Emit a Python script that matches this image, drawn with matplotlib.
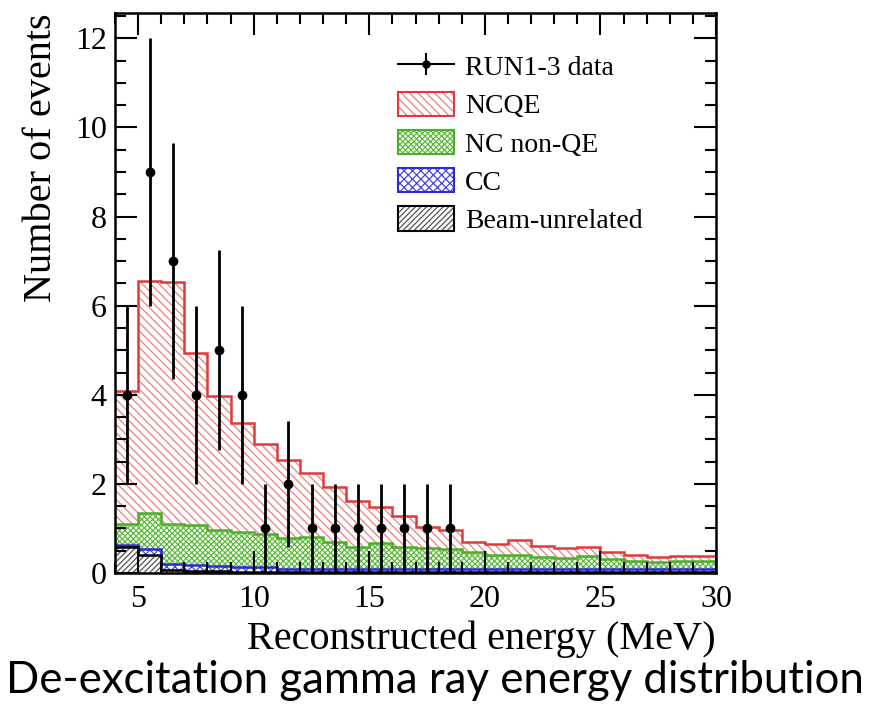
import numpy as np
import matplotlib
matplotlib.use("Agg")
import matplotlib.pyplot as plt
import matplotlib.patches as patches
from matplotlib.lines import Line2D
from matplotlib.ticker import MultipleLocator

# 1 MeV bins from 4 to 30 MeV
bin_edges = np.arange(4, 31, 1)

# stacked MC, cumulative tops
beam_top = [0.59, 0.40, 0.07, 0.05, 0.04, 0.03, 0.03, 0.02, 0.02, 0.02, 0.02, 0.02, 0.02,
            0.02, 0.02, 0.02, 0.02, 0.02, 0.02, 0.02, 0.02, 0.02, 0.02, 0.02, 0.02, 0.02]
cc_top = [0.63, 0.53, 0.20, 0.18, 0.16, 0.14, 0.13, 0.10, 0.10, 0.10, 0.10, 0.09, 0.09,
          0.09, 0.09, 0.09, 0.09, 0.09, 0.09, 0.09, 0.09, 0.09, 0.09, 0.09, 0.09, 0.09]
nonqe_top = [1.09, 1.34, 1.09, 1.07, 0.96, 0.93, 0.87, 0.78, 0.80, 0.70, 0.59, 0.67, 0.59,
             0.55, 0.53, 0.46, 0.40, 0.40, 0.35, 0.33, 0.38, 0.31, 0.27, 0.24, 0.27, 0.27]
ncqe_top = [4.08, 6.56, 6.54, 4.94, 3.98, 3.36, 2.89, 2.53, 2.25, 1.92, 1.62, 1.49, 1.28,
            1.04, 0.97, 0.70, 0.66, 0.73, 0.61, 0.55, 0.58, 0.46, 0.40, 0.35, 0.38, 0.38]

# RUN1-3 data
data_x = [4.5, 5.5, 6.5, 7.5, 8.5, 9.5, 10.5, 11.5, 12.5, 13.5, 14.5, 15.5, 16.5, 17.5, 18.5]
data_y = [4, 9, 7, 4, 5, 4, 1, 2, 1, 1, 1, 1, 1, 1, 1]
data_err = [2.0, 3.0, 2.65, 2.0, 2.24, 2.0, 1.0, 1.41, 1.0, 1.0, 1.0, 1.0, 1.0, 1.0, 1.0]

plt.rcParams['hatch.linewidth'] = 0.9
serif = ['Liberation Serif', 'DejaVu Serif']

fig = plt.figure(figsize=(8.76, 7.06), dpi=100)
ax = fig.add_axes([0.1313, 0.1884, 0.6861, 0.7932])

red, red_h = '#e03a3a', '#ec8080'
green, green_h = '#4caf2a', '#5cba3c'
blue, blue_h = '#2a2ad8', '#4646e0'
black, black_h = 'black', '#555555'
h_red, h_green, h_blue, h_beam = '\\\\\\\\', 'xxxxxx', 'xxxx', '//////'

# hatched fills, each from the layer below up to its own top
fills = [
    (nonqe_top, ncqe_top, red_h, h_red),
    (cc_top, nonqe_top, green_h, h_green),
    (beam_top, cc_top, blue_h, h_blue),
    (np.zeros(len(beam_top)), beam_top, black_h, h_beam),
]
for lo, hi, col, hatch in fills:
    ax.stairs(hi, bin_edges, baseline=lo, fill=True, facecolor='white',
              edgecolor=col, hatch=hatch, linewidth=0)
for hi, col in [(ncqe_top, red), (nonqe_top, green), (cc_top, blue), (beam_top, black)]:
    ax.stairs(hi, bin_edges, baseline=None, color=col, linewidth=1.8)

ax.errorbar(data_x, data_y, yerr=data_err, fmt='o', color='black', markersize=6,
            elinewidth=2.0, capsize=0, zorder=5)

ax.set_xlim(4, 30)
ax.set_ylim(0, 12.57)
ax.xaxis.set_major_locator(MultipleLocator(5))
ax.xaxis.set_minor_locator(MultipleLocator(1))
ax.yaxis.set_major_locator(MultipleLocator(2))
ax.yaxis.set_minor_locator(MultipleLocator(0.5))
ax.tick_params(which='both', direction='in', top=True, right=True, width=1.5)
ax.tick_params(which='major', length=16, labelsize=23, pad=6)
ax.tick_params(axis='x', which='major', pad=9)
ax.tick_params(which='minor', length=8)
for s in ax.spines.values():
    s.set_linewidth(1.8)
for lab in ax.get_xticklabels() + ax.get_yticklabels():
    lab.set_family(serif)

ax.set_xlabel('Reconstructed energy (MeV)', family=serif, fontsize=29, ha='right')
ax.xaxis.set_label_coords(1.0, -0.085)
ax.set_ylabel('Number of events', family=serif, fontsize=29, ha='right', va='center')
ax.yaxis.set_label_coords(-0.123, 1.0)


def legend_box(edge, hcol, hatch):
    # legend swatch: hatch colour for the pattern, solid outline on top
    return (patches.Patch(facecolor='white', edgecolor=hcol, hatch=hatch, lw=0),
            patches.Patch(facecolor='none', edgecolor=edge, lw=1.5))


data_handle = (Line2D([], [], color='black', lw=1.5, marker='o', markersize=5),
               Line2D([], [], color='black', lw=0, marker='|', markersize=16, markeredgewidth=1.5))
handles = [data_handle,
           legend_box(red, red_h, h_red),
           legend_box(green, green_h, h_green),
           legend_box(blue, blue_h, h_blue),
           legend_box(black, black_h, h_beam)]
labels = ['RUN1-3 data', 'NCQE', 'NC non-QE', 'CC', 'Beam-unrelated']
ax.legend(handles, labels, loc='upper left', bbox_to_anchor=(0.471, 0.928), frameon=False,
          prop={'family': serif, 'size': 20}, handlelength=2.0, handleheight=0.97,
          labelspacing=0.38, handletextpad=0.4, borderpad=0, borderaxespad=0)

fig.text(0.497, 0.036, 'De-excitation gamma ray energy distribution', family='Lato',
         fontsize=31.5, ha='center', va='center')

fig.savefig('out.png', dpi=100)
